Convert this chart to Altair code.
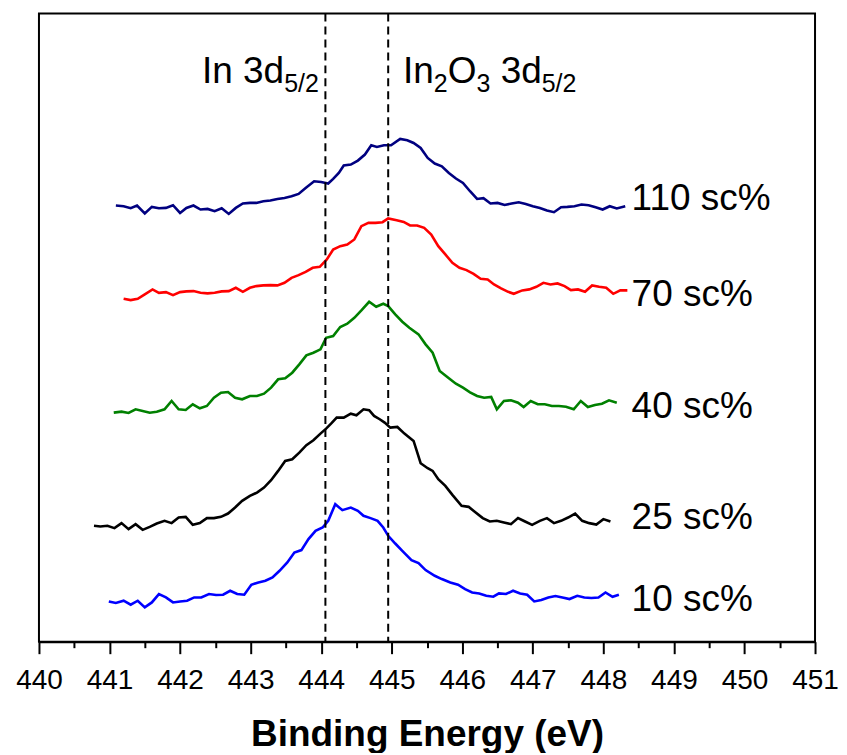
import altair as alt
import pandas as pd

# ---------------- data (binding energy in eV, intensity in a.u.) ----------------
series_names = ["110 sc%", "70 sc%", "40 sc%", "25 sc%", "10 sc%"]
series_colors = ["#000080", "#ff0000", "#008000", "#000000", "#0000ff"]

x_110 = [441.09, 441.20, 441.30, 441.39, 441.50, 441.60, 441.70, 441.80, 441.90, 442.00,
         442.09, 442.19, 442.29, 442.39, 442.49, 442.59, 442.69, 442.79, 442.89, 442.99,
         443.08, 443.18, 443.28, 443.38, 443.48, 443.58, 443.68, 443.78, 443.90, 444.00,
         444.10, 444.17, 444.25, 444.32, 444.42, 444.52, 444.62, 444.71, 444.79, 444.89,
         444.99, 445.12, 445.22, 445.31, 445.41, 445.51, 445.61, 445.71, 445.81, 445.91,
         446.01, 446.11, 446.21, 446.30, 446.40, 446.50, 446.60, 446.70, 446.80, 446.90,
         447.00, 447.10, 447.20, 447.30, 447.40, 447.49, 447.59, 447.69, 447.79, 447.89,
         447.99, 448.09, 448.19, 448.31]
y_110 = [436.7, 436.0, 434.0, 436.7, 428.7, 435.3, 434.0, 434.3, 437.0, 429.3,
         434.3, 436.7, 432.7, 433.3, 431.0, 434.0, 428.3, 434.3, 438.7, 439.3,
         439.3, 441.0, 441.7, 443.3, 444.3, 446.0, 448.3, 454.3, 461.0, 460.3,
         458.7, 463.3, 469.3, 476.7, 477.7, 481.7, 487.7, 497.0, 495.3, 497.0,
         497.0, 503.3, 502.0, 499.3, 494.3, 484.3, 478.7, 476.0, 469.3, 463.7,
         459.3, 451.0, 443.3, 444.0, 438.7, 439.3, 437.3, 438.7, 440.0, 438.3,
         436.0, 434.3, 431.7, 430.0, 435.0, 435.3, 436.0, 437.7, 437.0, 435.0,
         432.7, 436.0, 433.7, 436.0]

x_70 = [441.20, 441.30, 441.40, 441.50, 441.61, 441.70, 441.80, 441.90, 442.00, 442.09,
        442.19, 442.29, 442.39, 442.49, 442.59, 442.69, 442.79, 442.89, 442.99, 443.08,
        443.18, 443.28, 443.38, 443.48, 443.58, 443.68, 443.78, 443.88, 443.98, 444.08,
        444.17, 444.27, 444.37, 444.47, 444.57, 444.67, 444.77, 444.87, 444.95, 445.07,
        445.17, 445.26, 445.36, 445.46, 445.56, 445.66, 445.76, 445.86, 445.96, 446.06,
        446.16, 446.26, 446.36, 446.45, 446.55, 446.65, 446.73, 446.85, 446.95, 447.05,
        447.15, 447.25, 447.35, 447.45, 447.54, 447.64, 447.74, 447.84, 447.94, 448.04,
        448.14, 448.24, 448.34]
y_70 = [343.3, 342.0, 343.3, 347.7, 352.7, 349.3, 350.0, 347.0, 350.0, 350.7,
        351.0, 349.3, 348.7, 349.3, 350.7, 351.0, 354.3, 350.3, 354.3, 356.0,
        356.7, 357.0, 356.7, 359.3, 364.3, 367.0, 370.3, 374.3, 375.3, 382.7,
        392.7, 396.0, 397.7, 402.7, 416.0, 419.3, 419.3, 420.0, 423.7, 422.0,
        420.3, 416.7, 416.7, 414.3, 407.7, 396.0, 387.7, 379.3, 374.3, 372.0,
        368.3, 363.3, 362.7, 357.7, 353.7, 350.3, 348.3, 351.7, 352.7, 355.3,
        359.3, 357.7, 358.7, 356.0, 352.0, 352.7, 350.3, 356.7, 355.3, 354.3,
        348.3, 351.7, 351.7]

x_40 = [441.06, 441.17, 441.27, 441.37, 441.47, 441.57, 441.67, 441.78, 441.88, 441.98,
        442.08, 442.18, 442.28, 442.38, 442.48, 442.58, 442.68, 442.78, 442.88, 442.99,
        443.09, 443.19, 443.29, 443.39, 443.49, 443.59, 443.69, 443.79, 443.89, 443.99,
        444.07, 444.17, 444.27, 444.37, 444.47, 444.57, 444.68, 444.78, 444.88, 444.95,
        445.05, 445.15, 445.25, 445.38, 445.48, 445.58, 445.68, 445.81, 445.91, 446.01,
        446.11, 446.21, 446.31, 446.41, 446.49, 446.59, 446.69, 446.79, 446.87, 446.97,
        447.07, 447.17, 447.27, 447.37, 447.47, 447.58, 447.68, 447.78, 447.88, 447.98,
        448.08, 448.19]
y_40 = [229.3, 230.3, 229.0, 232.7, 231.0, 229.3, 230.3, 232.7, 241.0, 232.7,
        232.0, 237.7, 233.7, 236.0, 244.3, 249.3, 250.0, 244.3, 242.7, 246.0,
        246.0, 248.3, 254.3, 262.7, 263.7, 269.3, 277.7, 286.7, 289.3, 292.7,
        304.3, 306.0, 315.0, 318.3, 324.3, 331.7, 340.3, 335.3, 338.3, 336.0,
        327.7, 320.3, 314.3, 307.7, 297.7, 289.3, 271.0, 263.7, 258.3, 254.3,
        249.7, 246.0, 244.3, 245.0, 232.7, 241.0, 241.7, 239.3, 235.0, 241.0,
        237.7, 237.7, 236.0, 236.0, 235.3, 232.7, 241.0, 235.0, 237.0, 238.3,
        241.7, 239.3]

x_25 = [440.78, 440.87, 440.97, 441.07, 441.17, 441.27, 441.37, 441.47, 441.57, 441.67,
        441.78, 441.88, 441.98, 442.08, 442.18, 442.28, 442.38, 442.48, 442.58, 442.68,
        442.78, 442.88, 442.99, 443.09, 443.19, 443.29, 443.39, 443.49, 443.59, 443.69,
        443.79, 443.89, 443.99, 444.07, 444.14, 444.22, 444.32, 444.42, 444.50, 444.60,
        444.68, 444.75, 444.83, 444.90, 444.98, 445.08, 445.18, 445.31, 445.41, 445.51,
        445.58, 445.66, 445.76, 445.86, 445.99, 446.09, 446.19, 446.29, 446.39, 446.49,
        446.59, 446.69, 446.79, 446.89, 446.99, 447.10, 447.20, 447.30, 447.40, 447.50,
        447.60, 447.70, 447.80, 447.90, 448.00, 448.10]
y_25 = [116.0, 115.3, 116.0, 113.7, 118.7, 112.7, 117.7, 112.0, 115.0, 118.3,
        121.0, 118.7, 124.3, 125.0, 117.0, 118.7, 123.7, 123.7, 125.0, 128.3,
        134.3, 141.0, 146.0, 149.3, 154.3, 161.7, 171.0, 181.0, 182.7, 189.3,
        196.7, 201.7, 208.3, 213.3, 218.3, 224.3, 224.3, 228.3, 226.7, 232.7,
        231.7, 226.0, 222.7, 219.3, 214.3, 215.0, 208.3, 201.0, 178.7, 173.7,
        171.0, 162.7, 156.0, 147.0, 136.0, 135.0, 129.3, 123.7, 120.3, 121.0,
        119.3, 117.7, 123.7, 120.3, 117.0, 121.0, 123.7, 118.7, 121.0, 124.3,
        128.3, 121.0, 118.7, 117.3, 122.7, 120.3]

x_10 = [440.99, 441.09, 441.20, 441.30, 441.40, 441.50, 441.60, 441.70, 441.80, 441.90,
        442.00, 442.10, 442.20, 442.30, 442.41, 442.51, 442.61, 442.71, 442.81, 442.91,
        443.01, 443.11, 443.21, 443.31, 443.41, 443.52, 443.62, 443.72, 443.82, 443.92,
        444.02, 444.10, 444.20, 444.30, 444.42, 444.52, 444.60, 444.70, 444.80, 444.88,
        444.95, 445.05, 445.15, 445.28, 445.38, 445.48, 445.61, 445.71, 445.83, 445.94,
        446.04, 446.14, 446.24, 446.34, 446.44, 446.52, 446.62, 446.72, 446.82, 446.92,
        447.02, 447.12, 447.22, 447.32, 447.42, 447.52, 447.63, 447.73, 447.83, 447.93,
        448.03, 448.13, 448.22]
y_10 = [40.3, 38.7, 41.0, 37.0, 41.0, 34.3, 39.3, 47.7, 44.3, 39.3,
        40.3, 41.0, 44.3, 44.3, 47.7, 46.7, 47.0, 51.0, 47.7, 47.0,
        57.0, 59.3, 61.0, 64.3, 71.0, 79.3, 89.3, 91.7, 102.7, 111.0,
        114.3, 121.0, 137.7, 131.7, 134.3, 131.0, 126.0, 123.7, 121.0, 114.3,
        106.0, 98.3, 91.0, 81.7, 78.7, 71.7, 66.0, 62.7, 59.3, 57.0,
        52.7, 49.3, 48.3, 46.0, 45.0, 48.3, 47.7, 51.0, 48.3, 47.0,
        40.3, 41.7, 44.3, 45.7, 44.3, 42.7, 46.0, 44.3, 43.7, 44.3,
        49.3, 45.0, 47.0]

# series label anchors (x in eV, text baseline in a.u.)
label_x = [448.40, 448.40, 448.40, 448.40, 448.40]
label_y = [432.0, 336.0, 224.0, 113.0, 31.0]

# reference peak positions (eV)
peak_names = ["In 3d5/2", "In2O3 3d5/2"]
peak_x = [444.06, 444.95]

# annotation pieces: (text, anchor energy, baseline, is_subscript, offset from anchor)
ann_text = ["In 3d", "5/2", "In", "2", "O", "3", "3d", "5/2"]
ann_anchor = [442.31, 442.31, 445.16, 445.16, 445.16, 445.16, 445.16, 445.16]
ann_y = [559.3, 550.5, 559.3, 550.5, 559.3, 550.5, 559.3, 550.5]
ann_sub = [False, True, False, True, False, True, False, True]
ann_dx = [0.0, 82.3, 0.0, 30.9, 44.8, 73.6, 97.8, 138.9]

# axis ranges and ticks
x_domain = [440, 451]
y_domain = [0, 629]
major_ticks = [440, 441, 442, 443, 444, 445, 446, 447, 448, 449, 450, 451]
minor_ticks = [440.5, 441.5, 442.5, 443.5, 444.5, 445.5, 446.5, 447.5, 448.5, 449.5, 450.5]

# ---------------- build tables ----------------
xs = [x_110, x_70, x_40, x_25, x_10]
ys = [y_110, y_70, y_40, y_25, y_10]
rows = []
for name, xv, yv in zip(series_names, xs, ys):
    for a, b in zip(xv, yv):
        rows.append({"series": name, "energy": a, "intensity": b})
df = pd.DataFrame(rows)

labels_df = pd.DataFrame({"series": series_names, "x": label_x, "y": label_y})
peaks_df = pd.DataFrame({"name": peak_names, "x": peak_x})
frame_df = pd.DataFrame({"x0": [x_domain[0]], "x1": [x_domain[1]],
                         "y0": [y_domain[0]], "y1": [y_domain[1]]})

FONT = "Liberation Sans"
MAIN_SIZE = 37
SUB_SIZE = 25

x_scale = alt.Scale(domain=x_domain, nice=False, zero=False)
y_scale = alt.Scale(domain=y_domain, nice=False, zero=False)
color_scale = alt.Scale(domain=series_names, range=series_colors)

tick_values = sorted(major_ticks + minor_ticks)

x_axis = alt.Axis(
    values=tick_values,
    labelExpr="datum.value % 1 === 0 ? format(datum.value, 'd') : ''",
    labelOverlap=False,
    labelFlush=False,
    tickSize={"condition": {"test": "datum.value % 1 === 0", "value": 12}, "value": 6},
    tickWidth=2,
    tickColor="black",
    domainColor="black",
    domainWidth=2,
    labelFont=FONT,
    labelFontSize=28,
    labelColor="black",
    labelPadding=13,
    grid=False,
    title="Binding Energy (eV)",
    titleFont=FONT,
    titleFontSize=37,
    titleFontWeight="bold",
    titleColor="black",
    titlePadding=22,
)

X_ENC = dict(scale=x_scale, axis=x_axis)
Y_PLAIN = dict(scale=y_scale, axis=None)

frame = alt.Chart(frame_df).mark_rect(
    fill="white", fillOpacity=0, stroke="black", strokeWidth=2
).encode(
    x=alt.X("x0:Q", **X_ENC), x2="x1:Q",
    y=alt.Y("y0:Q", **Y_PLAIN), y2="y1:Q",
)

lines = alt.Chart(df).mark_line(strokeWidth=2.6).encode(
    x=alt.X("energy:Q", **X_ENC),
    y=alt.Y("intensity:Q", **Y_PLAIN),
    color=alt.Color("series:N", scale=color_scale, legend=None),
    detail="series:N",
)

rules = alt.Chart(peaks_df).mark_rule(
    color="black", strokeWidth=2, strokeDash=[8, 5]
).encode(x=alt.X("x:Q", **X_ENC))

labels = alt.Chart(labels_df).mark_text(
    align="left", baseline="alphabetic", font=FONT, fontSize=37, color="black"
).encode(
    x=alt.X("x:Q", **X_ENC),
    y=alt.Y("y:Q", **Y_PLAIN),
    text="series:N",
)

ann_layers = []
for t, ax, ay, sub, dx in zip(ann_text, ann_anchor, ann_y, ann_sub, ann_dx):
    piece = pd.DataFrame({"text": [t], "x": [ax], "y": [ay]})
    ann_layers.append(
        alt.Chart(piece).mark_text(
            align="left", baseline="alphabetic", font=FONT,
            fontSize=SUB_SIZE if sub else MAIN_SIZE, color="black", dx=dx
        ).encode(
            x=alt.X("x:Q", **X_ENC),
            y=alt.Y("y:Q", **Y_PLAIN),
            text="text:N",
        )
    )

chart = alt.layer(lines, frame, rules, labels, *ann_layers).properties(
    width=777,
    height=629,
    padding={"left": 7, "top": 4, "right": 0, "bottom": 0},
    background="white",
).configure_view(
    stroke="transparent", strokeWidth=0
)

chart.save("out.html", embed_options={"renderer": "svg", "actions": False})
